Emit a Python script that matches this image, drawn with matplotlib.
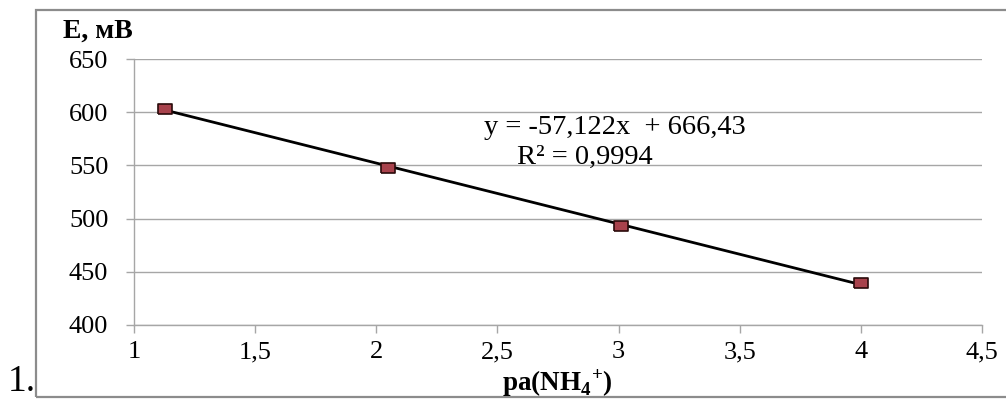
import numpy as np
import matplotlib
matplotlib.use("Agg")
import matplotlib.pyplot as plt
from matplotlib.ticker import FuncFormatter
from matplotlib.patches import Rectangle

# measured points
pa = [1.13, 2.05, 3.01, 4.0]
E = [603, 548, 493, 439]

# trend line from the chart label
slope = -57.122
intercept = 666.43
r2_text = "0,9994"

x_ticks = [1, 1.5, 2, 2.5, 3, 3.5, 4, 4.5]
y_ticks = [400, 450, 500, 550, 600, 650]


def comma(v, pos):
    s = ("%g" % v)
    return s.replace(".", ",")


def main():
    plt.rcParams['font.family'] = ['Liberation Serif', 'DejaVu Serif']
    plt.rcParams['mathtext.fontset'] = 'custom'
    plt.rcParams['mathtext.rm'] = 'Liberation Serif'
    plt.rcParams['mathtext.bf'] = 'Liberation Serif:bold'

    fig = plt.figure(figsize=(10.06, 3.99), dpi=100)
    ax = fig.add_axes([0.1332, 0.1855, 0.8429, 0.6666])

    grid_c = '#a6a6a6'
    for v in y_ticks:
        ax.axhline(v, color=grid_c, lw=1, zorder=1)

    xs = np.array([min(pa), max(pa)])
    ax.plot(xs, slope * xs + intercept, color='black', lw=2, zorder=2)
    rect = [(-1.4, -1), (1.4, -1), (1.4, 1), (-1.4, 1), (-1.4, -1)]
    ax.plot(pa, E, ls='none', marker=rect, markersize=10.5,
            markerfacecolor='#a8424c', markeredgecolor='#2a0a0a',
            markeredgewidth=1.2, zorder=3)

    ax.set_xlim(1, 4.5)
    ax.set_ylim(400, 650)
    ax.set_xticks(x_ticks)
    ax.set_yticks(y_ticks)
    ax.xaxis.set_major_formatter(FuncFormatter(comma))
    ax.tick_params(axis='both', direction='out', color=grid_c, length=5.5,
                   width=1, labelsize=19)
    ax.tick_params(axis='x', pad=6)
    ax.tick_params(axis='y', pad=13)

    for s in ['top', 'right']:
        ax.spines[s].set_visible(False)
    for s in ['left', 'bottom']:
        ax.spines[s].set_color(grid_c)
        ax.spines[s].set_linewidth(1)

    fig.text(615 / 1006, 1 - 127 / 399, "y = -57,122x  + 666,43",
             ha='center', va='center', fontsize=20.5)
    fig.text(585 / 1006, 1 - 157 / 399, "R\u00b2 = " + r2_text,
             ha='center', va='center', fontsize=20.5)

    fig.text(0.063, 0.922, "E, мВ", fontsize=20, fontweight='bold',
             ha='left', va='center')
    fig.text(557 / 1006, 0.04, r"pa(NH$_\mathbf{4}$$^\mathbf{+}$)",
             fontsize=19.5, fontweight='bold', ha='center', va='center')
    fig.text(0.008, 0.0, "1.", fontsize=27, ha='left', va='bottom')

    fig.patches.append(Rectangle((0.0358, 0.006), 1.2, 0.969,
                                 transform=fig.transFigure, fill=False,
                                 edgecolor='#8c8c8c', lw=1.6))

    fig.savefig("out.png", dpi=100)


if __name__ == "__main__":
    main()
